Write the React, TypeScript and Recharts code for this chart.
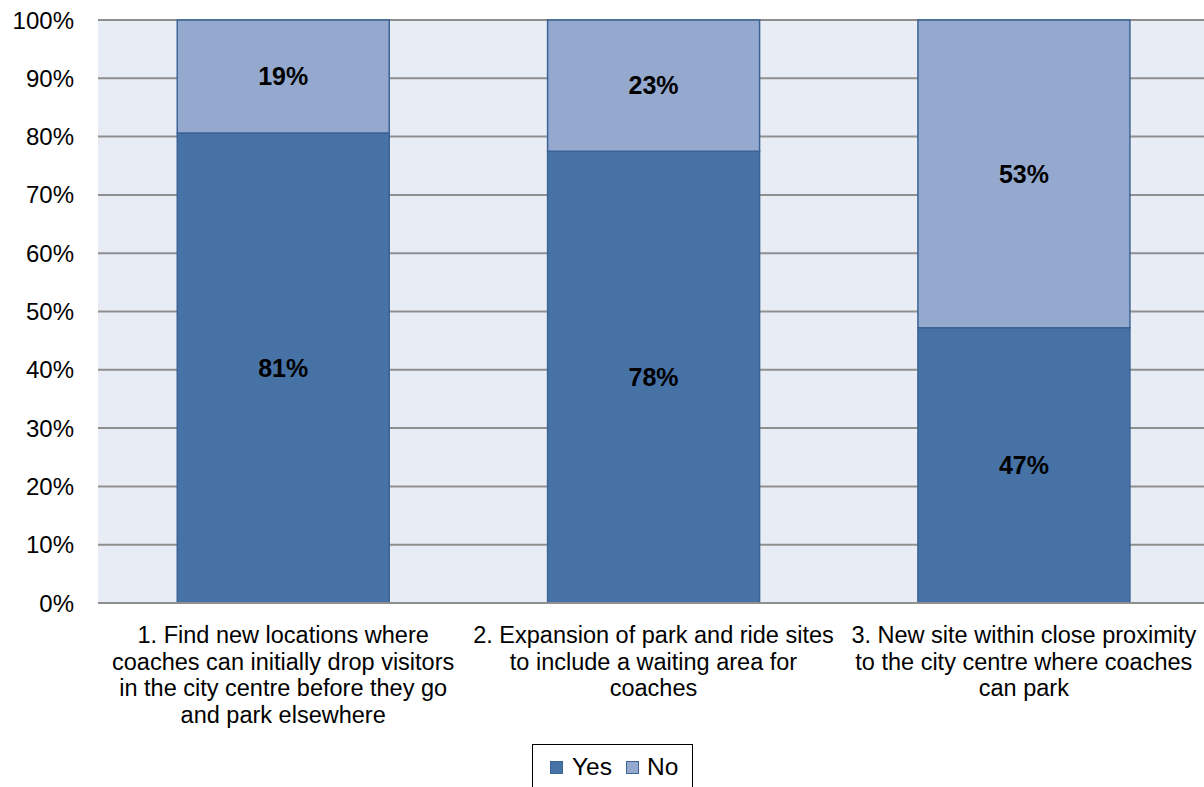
import React from "react";
import { BarChart, Bar, XAxis, YAxis, CartesianGrid, Legend, LabelList } from "recharts";

const categories = ["Q1", "Q2", "Q3"];
const categoryLines = [
  ["1. Find new locations where", "coaches can initially drop visitors", "in the city centre before they go", "and park elsewhere"],
  ["2. Expansion of park and ride sites", "to include a waiting area for", "coaches"],
  ["3. New site within close proximity", "to the city centre where coaches", "can park"],
];
const yesValues = [80.6, 77.5, 47.2];
const noValues = [19.4, 22.5, 52.8];
const yTicks = [0, 10, 20, 30, 40, 50, 60, 70, 80, 90, 100];

const data = categories.map((c, i) => ({ name: c, yes: yesValues[i], no: noValues[i] }));

const FONT = "'Liberation Sans', Arial, sans-serif";
const YES_COLOR = "#4672a6";
const NO_COLOR = "#95a9cf";
const STROKE = "#3b6395";

const XTick = (props: any) => {
  const { x, y, payload } = props;
  const lines = categoryLines[payload.index] || [];
  return (
    <g>
      {lines.map((l, i) => (
        <text key={i} x={x} y={y + 32 + i * 26.7} textAnchor="middle" fontSize={23.5} fontFamily={FONT} fill="#000">
          {l}
        </text>
      ))}
    </g>
  );
};

const LegendContent = () => (
  <div style={{ marginLeft: 532, width: 161, height: 46, border: "1px solid #000", boxSizing: "border-box", display: "flex", alignItems: "center", fontFamily: FONT, fontSize: 24.5, color: "#000" }}>
    <span style={{ display: "inline-block", width: 11, height: 11, background: YES_COLOR, border: `1px solid ${STROKE}`, marginLeft: 17, marginRight: 9 }} />
    <span>Yes</span>
    <span style={{ display: "inline-block", width: 11, height: 11, background: NO_COLOR, border: `1px solid ${STROKE}`, marginLeft: 14, marginRight: 8 }} />
    <span>No</span>
  </div>
);

const fmt = (v: any) => `${Math.round(Number(v))}%`;

export default function App() {
  return (
    <div style={{ position: "absolute", left: 0, top: 0, width: 1204, height: 787, background: "#fff", overflow: "hidden" }}>
      <BarChart width={1204} height={787} data={data} margin={{ top: 20, right: -5, left: 0, bottom: 0 }} barCategoryGap="21.4%">
        <CartesianGrid vertical={false} stroke="#8f8f8f" strokeWidth={2} fill="#e8ecf4" fillOpacity={1} />
        <XAxis dataKey="name" height={141} axisLine={{ stroke: "#8f8f8f", strokeWidth: 2 }} tickLine={false} tick={<XTick />} interval={0} />
        <YAxis width={98} domain={[0, 100]} ticks={yTicks} tickFormatter={(v: number) => `${v}%`} axisLine={false} tickLine={false} tickSize={0} tickMargin={24} tick={{ fontSize: 24, fontFamily: FONT, fill: "#000" }} />
        <Legend verticalAlign="bottom" height={43} content={<LegendContent />} wrapperStyle={{ left: 0, width: 1204 }} />
        <Bar dataKey="yes" name="Yes" stackId="a" fill={YES_COLOR} stroke={STROKE} strokeWidth={1.5} isAnimationActive={false}>
          <LabelList dataKey="yes" position="center" formatter={fmt} style={{ fontSize: 25, fontWeight: "bold", fontFamily: FONT, fill: "#000" }} />
        </Bar>
        <Bar dataKey="no" name="No" stackId="a" fill={NO_COLOR} stroke={STROKE} strokeWidth={1.5} isAnimationActive={false}>
          <LabelList dataKey="no" position="center" formatter={fmt} style={{ fontSize: 25, fontWeight: "bold", fontFamily: FONT, fill: "#000" }} />
        </Bar>
      </BarChart>
    </div>
  );
}
